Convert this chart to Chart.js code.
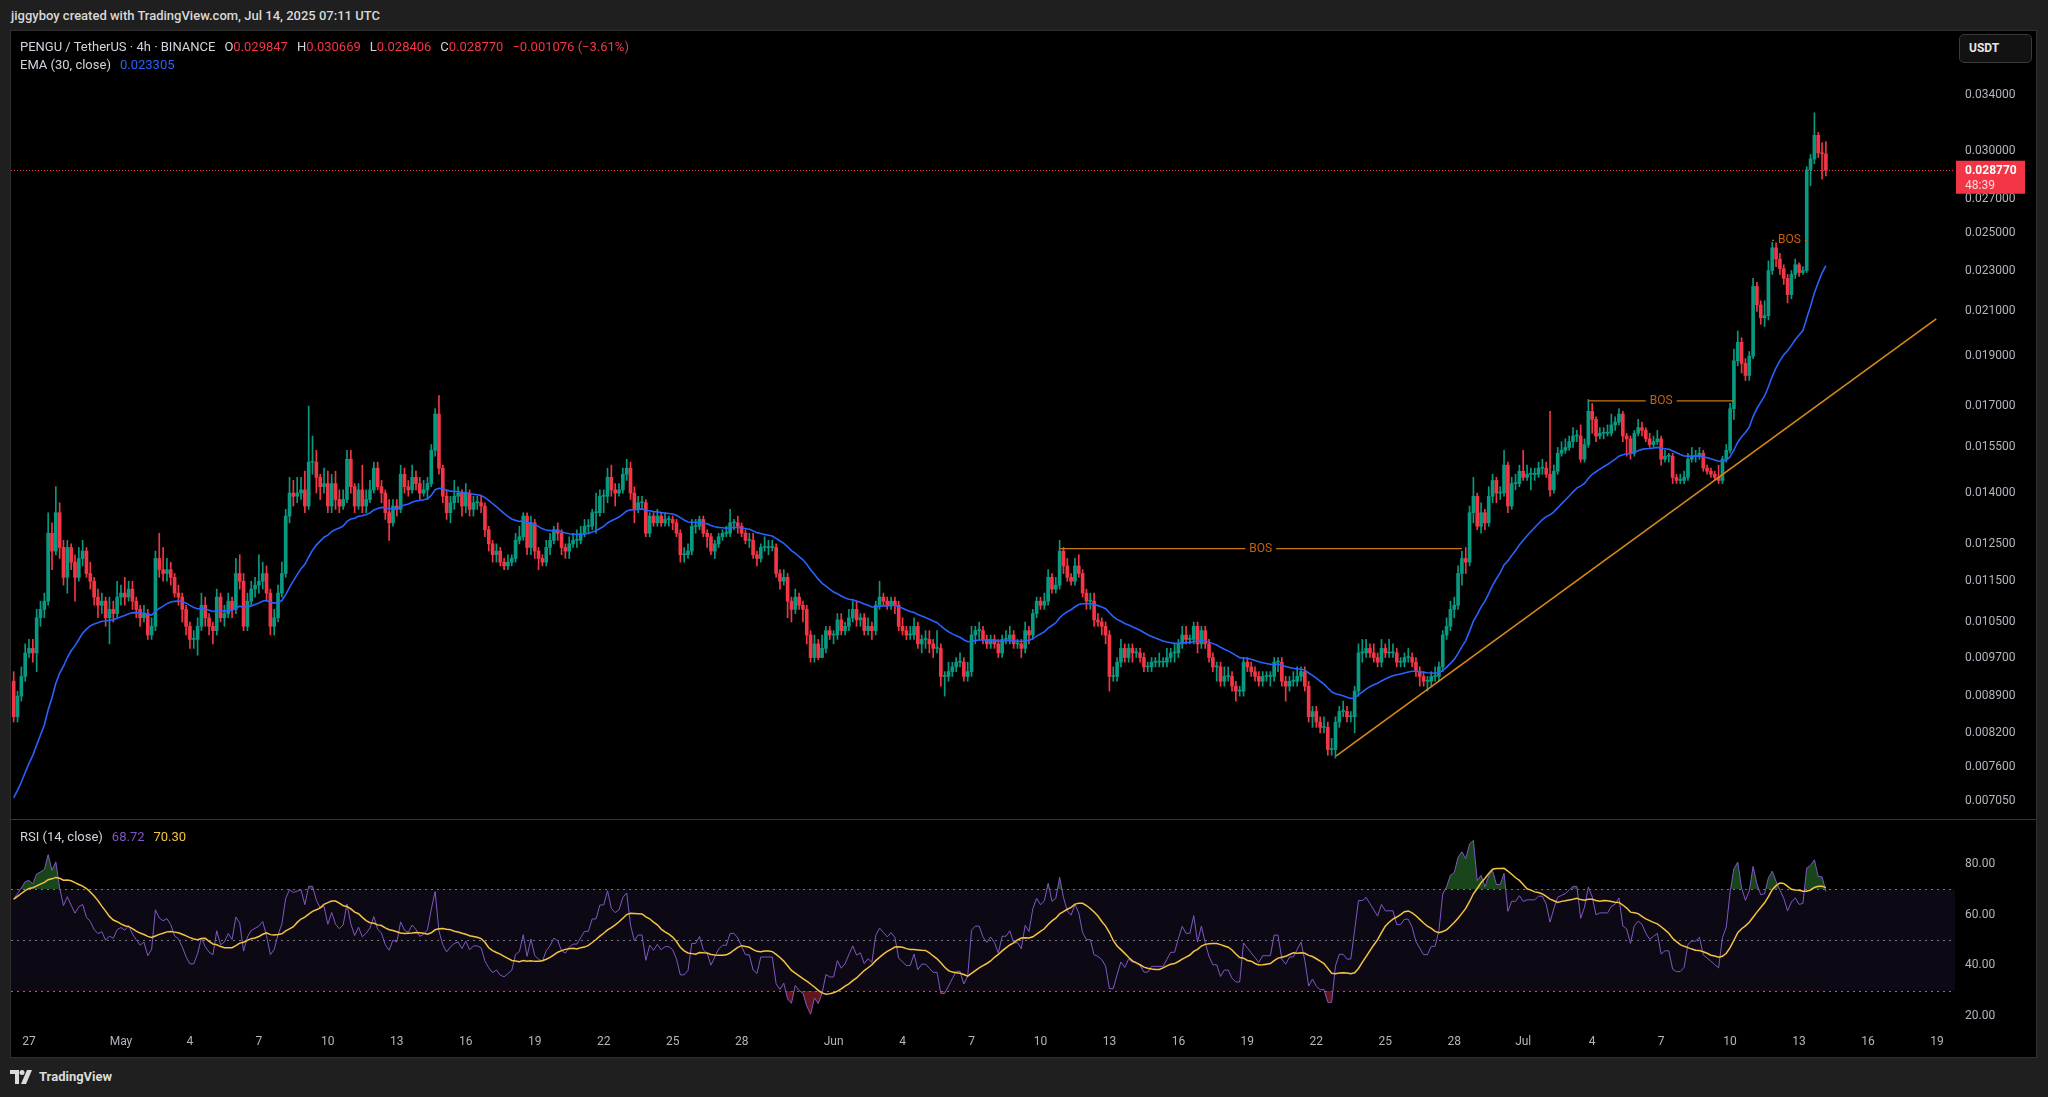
<!DOCTYPE html>
<html>
<head>
<meta charset="utf-8">
<title>PENGU / TetherUS 4h</title>
<script src="https://cdn.jsdelivr.net/npm/chart.js@4.4.1/dist/chart.umd.min.js"></script>
<style>
  html, body { margin: 0; padding: 0; width: 2048px; height: 1097px; overflow: hidden; background: #1f1f1f; font-family: Roboto, "Noto Sans", sans-serif; }
  .abs { position: absolute; }
  #header { left: 11px; top: 8px; color: #d8d8d8; font-size: 13px; font-weight: 500; white-space: nowrap; }
  #frame { left: 10px; top: 30px; width: 2027px; height: 1028px; background: #000; border: 1px solid #2f2f2f; box-sizing: border-box; }
  #price { left: 11px; top: 31px; }
  #sep { left: 11px; top: 819px; width: 2025px; height: 1px; background: #333; }
  #rsi { left: 11px; top: 820px; }
  .legend { color: #d1d4dc; font-size: 13px; white-space: nowrap; }
  .legend span { margin-left: 9px; }
  .red { color: #f23645; }
  #usdt { left: 1959px; top: 34px; width: 73px; height: 29px; box-sizing: border-box; border: 1px solid #3a3a3a; border-radius: 5px; background: #121212; color: #e6e6e6; font-size: 12px; font-weight: 700; line-height: 27px; padding-left: 9px; }
  #footer { left: 10px; top: 1069px; color: #dcdcdc; font-size: 13px; font-weight: 700; display: flex; align-items: center; }
</style>
</head>
<body>
<div id="header" class="abs">jiggyboy created with TradingView.com, Jul 14, 2025 07:11 UTC</div>
<div id="frame" class="abs"></div>
<canvas id="price" class="abs" width="2025" height="788"></canvas>
<div id="sep" class="abs"></div>
<canvas id="rsi" class="abs" width="2025" height="237"></canvas>

<div class="abs legend" style="left:20px; top:39px;">PENGU / TetherUS · 4h · BINANCE<span>O<b class="red" style="font-weight:400">0.029847</b></span><span>H<b class="red" style="font-weight:400">0.030669</b></span><span>L<b class="red" style="font-weight:400">0.028406</b></span><span>C<b class="red" style="font-weight:400">0.028770</b></span><span class="red">−0.001076 (−3.61%)</span></div>
<div class="abs legend" style="left:20px; top:57px;">EMA (30, close)<span style="color:#2962ff">0.023305</span></div>
<div class="abs legend" style="left:20px; top:829px;">RSI (14, close)<span style="color:#7e57c2">68.72</span><span style="color:#f5c342">70.30</span></div>
<div id="usdt" class="abs">USDT</div>
<div id="footer" class="abs">
  <svg width="24" height="14" viewBox="0 0 24 14"><path d="M0 0h9v14H5V4H0z" fill="#dcdcdc"/><circle cx="12" cy="2.5" r="2.5" fill="#dcdcdc"/><path d="M17 0h5l-6 14h-5z" fill="#dcdcdc"/></svg>
  <span style="margin-left:5px">TradingView</span>
</div>

<script>
// 4h candles, first one opens Apr 26 08:00 UTC, last one Jul 14 04:00 UTC
const firstOpen = 0.0092;
const closes = [
  0.0085,0.0089,0.0093,0.0098,
  0.0099,0.0098,0.0106,0.0108,0.0110,0.0128,
  0.0123,0.0134,0.0124,0.0116,0.0124,0.0120,
  0.0116,0.0121,0.0123,0.0117,0.0115,0.0111,
  0.0109,0.0110,0.0106,0.0108,0.0107,0.0111,
  0.0112,0.0111,0.0113,0.0110,0.0108,0.0106,
  0.0107,0.0102,0.0104,0.0121,0.0118,0.0117,
  0.0118,0.0116,0.0112,0.0111,0.0108,0.0104,
  0.0101,0.0101,0.0104,0.0109,0.0106,0.0104,
  0.0103,0.0111,0.0106,0.0107,0.0110,0.0108,
  0.0117,0.0115,0.0104,0.0110,0.0113,0.0114,
  0.0115,0.0117,0.0112,0.0104,0.0106,0.0112,
  0.0117,0.0133,0.0140,0.0139,0.0140,0.0141,
  0.0136,0.0150,0.0150,0.0145,0.0142,0.0143,
  0.0136,0.0143,0.0138,0.0136,0.0138,0.0151,
  0.0142,0.0136,0.0141,0.0136,0.0138,0.0141,
  0.0148,0.0142,0.0140,0.0134,0.0131,0.0136,
  0.0135,0.0146,0.0142,0.0141,0.0145,0.0143,
  0.0140,0.0141,0.0143,0.0154,0.0167,0.0148,
  0.0139,0.0134,0.0137,0.0139,0.0140,0.0136,
  0.0140,0.0135,0.0137,0.0137,0.0136,0.0129,
  0.0125,0.0122,0.0123,0.0120,0.0119,0.0120,
  0.0121,0.0126,0.0127,0.0133,0.0124,0.0131,
  0.0123,0.0121,0.0120,0.0124,0.0126,0.0129,
  0.0128,0.0124,0.0123,0.0125,0.0126,0.0126,
  0.0128,0.0130,0.0130,0.0134,0.0134,0.0139,
  0.0139,0.0145,0.0141,0.0140,0.0141,0.0146,
  0.0148,0.0140,0.0135,0.0137,0.0137,0.0128,
  0.0133,0.0131,0.0133,0.0131,0.0132,0.0132,
  0.0131,0.0128,0.0122,0.0122,0.0123,0.0130,
  0.0130,0.0132,0.0128,0.0127,0.0123,0.0125,
  0.0127,0.0128,0.0128,0.0131,0.0131,0.0130,
  0.0128,0.0126,0.0126,0.0122,0.0121,0.0124,
  0.0124,0.0124,0.0124,0.0117,0.0115,0.0116,
  0.0110,0.0108,0.0111,0.0109,0.0108,0.0102,
  0.0097,0.0100,0.0097,0.0099,0.0103,0.0102,
  0.0102,0.01055,0.0103,0.0104,0.0106,0.0108,
  0.01055,0.0106,0.0103,0.0104,0.0103,0.0109,
  0.0111,0.0110,0.0109,0.0110,0.0109,0.0104,
  0.0103,0.0102,0.0102,0.0104,0.0100,0.0101,
  0.0101,0.0100,0.0099,0.0099,0.0093,0.0093,
  0.0094,0.0095,0.0096,0.0096,0.0093,0.0094,
  0.0102,0.0103,0.0103,0.0101,0.0100,0.0101,
  0.0100,0.0098,0.0101,0.0101,0.0102,0.0100,
  0.0100,0.0099,0.0103,0.0102,0.0107,0.0110,
  0.0109,0.0110,0.0116,0.0113,0.0114,0.0123,
  0.0119,0.0116,0.0115,0.0119,0.0117,0.0112,
  0.0110,0.0110,0.01055,0.0105,0.0104,0.0102,
  0.0093,0.0093,0.0096,0.0099,0.0097,0.0099,
  0.0098,0.0098,0.0097,0.0095,0.0095,0.0096,
  0.0096,0.0096,0.0096,0.0097,0.0098,0.0098,
  0.0100,0.0102,0.0101,0.0101,0.0104,0.0100,
  0.0103,0.0100,0.0097,0.0095,0.0095,0.0092,
  0.0093,0.0093,0.0091,0.0090,0.0090,0.0096,
  0.0095,0.0094,0.0093,0.0092,0.0093,0.0093,
  0.0093,0.0096,0.0096,0.0092,0.0091,0.0092,
  0.0092,0.0093,0.0094,0.0091,0.0085,0.0086,
  0.0084,0.0083,0.0083,0.0079,0.0079,0.0084,
  0.0086,0.0086,0.0085,0.0085,0.0090,0.0098,
  0.0098,0.0099,0.0098,0.0097,0.0096,0.0099,
  0.0098,0.0098,0.0098,0.0096,0.0096,0.0097,
  0.0097,0.0096,0.0094,0.0093,0.0092,0.0092,
  0.0093,0.0093,0.0095,0.0102,0.0104,0.0108,
  0.0109,0.0117,0.0121,0.0120,0.0134,0.0139,
  0.0130,0.0134,0.0131,0.0139,0.0144,0.0140,
  0.0140,0.0149,0.0136,0.0143,0.0143,0.0147,
  0.0145,0.0146,0.0146,0.0146,0.0148,0.0148,
  0.0146,0.0141,0.0147,0.0153,0.0154,0.0155,
  0.0157,0.0159,0.0159,0.0151,0.0156,0.0168,
  0.0165,0.0159,0.0160,0.0160,0.0160,0.0163,
  0.0164,0.0167,0.0159,0.0158,0.0153,0.0160,
  0.0162,0.0161,0.0158,0.0156,0.0157,0.0158,
  0.0151,0.0152,0.0152,0.0145,0.0144,0.0144,
  0.0145,0.0151,0.0152,0.0152,0.0153,0.0148,
  0.0147,0.0146,0.0145,0.0144,0.0151,0.0154,
  0.0169,0.0188,0.0196,0.0187,0.0182,0.0190,
  0.0222,0.0213,0.0207,0.0208,0.0230,0.0242,
  0.0236,0.0231,0.0226,0.0218,0.0228,0.0233,
  0.0229,0.0230,0.0288,0.0295,0.0311,0.0299,
  0.029847,0.02877
];
const highs = [
  0.0094,0.0090,0.0095,0.0100,
  0.0101,0.0101,0.0108,0.0110,0.0112,0.0134,
  0.0131,0.0142,0.0137,0.0126,0.0126,0.0125,
  0.0122,0.0124,0.0126,0.0124,0.0120,0.0116,
  0.0113,0.0112,0.0111,0.0111,0.0110,0.0115,
  0.0114,0.0116,0.0115,0.0115,0.0111,0.0109,
  0.0109,0.0108,0.0106,0.0123,0.0128,0.0124,
  0.0121,0.0120,0.0117,0.0114,0.0112,0.0109,
  0.0105,0.0103,0.0106,0.0112,0.0111,0.0107,
  0.0105,0.0113,0.0112,0.0109,0.0112,0.0111,
  0.0121,0.0122,0.0117,0.0112,0.0115,0.0116,
  0.0122,0.0120,0.0119,0.0113,0.0108,0.0114,
  0.0120,0.0135,0.0145,0.0144,0.0145,0.0145,
  0.0147,0.0170,0.0159,0.0154,0.0146,0.0148,
  0.0147,0.0146,0.0147,0.0141,0.0141,0.0154,
  0.0154,0.0143,0.0143,0.0149,0.0141,0.0144,
  0.0150,0.0150,0.0144,0.0141,0.0138,0.0138,
  0.0138,0.0149,0.0148,0.0144,0.0149,0.0147,
  0.0145,0.0144,0.0145,0.0156,0.0169,0.0174,
  0.0149,0.0141,0.0139,0.0144,0.0142,0.0141,
  0.0143,0.0141,0.0139,0.0139,0.0139,0.0137,
  0.0130,0.0126,0.0125,0.0124,0.0121,0.0122,
  0.0122,0.0128,0.0130,0.0134,0.0134,0.0133,
  0.0132,0.0124,0.0122,0.0126,0.0128,0.0130,
  0.0131,0.0129,0.0125,0.0127,0.0128,0.0129,
  0.0130,0.0132,0.0132,0.0135,0.0140,0.0141,
  0.0141,0.0148,0.0149,0.0143,0.0143,0.0148,
  0.0151,0.0150,0.0142,0.0139,0.0139,0.0138,
  0.0134,0.0134,0.0135,0.0134,0.0134,0.0133,
  0.0133,0.0132,0.0129,0.0124,0.0125,0.0132,
  0.0132,0.0133,0.0133,0.0129,0.0128,0.0126,
  0.0128,0.0129,0.0130,0.0135,0.0132,0.0133,
  0.0131,0.0129,0.0128,0.0128,0.0123,0.0125,
  0.0127,0.0126,0.0126,0.0125,0.0118,0.0118,
  0.0117,0.0111,0.0113,0.0112,0.0110,0.0109,
  0.0103,0.0102,0.0101,0.0102,0.0104,0.0104,
  0.0103,0.0107,0.0107,0.0105,0.0108,0.0110,
  0.0110,0.0107,0.0107,0.0106,0.0105,0.0110,
  0.0115,0.0112,0.0111,0.0111,0.0111,0.0110,
  0.0106,0.0104,0.0104,0.0106,0.0105,0.0102,
  0.0103,0.0103,0.0101,0.0103,0.0100,0.0094,
  0.0096,0.0096,0.0097,0.0098,0.0097,0.0096,
  0.0104,0.0104,0.0105,0.0104,0.0102,0.0102,
  0.0102,0.0101,0.0102,0.0103,0.0104,0.0103,
  0.0101,0.0101,0.0105,0.0104,0.0108,0.0111,
  0.0111,0.0112,0.0118,0.0117,0.0116,0.0126,
  0.0124,0.0121,0.0117,0.0121,0.0122,0.0118,
  0.0113,0.0112,0.0112,0.0107,0.0106,0.0105,
  0.0103,0.0095,0.0097,0.0101,0.0100,0.0100,
  0.0100,0.0099,0.0099,0.0098,0.0096,0.0097,
  0.0097,0.0098,0.0097,0.0099,0.0099,0.0100,
  0.0101,0.0104,0.0104,0.0102,0.0105,0.0105,
  0.0104,0.0104,0.0101,0.0098,0.0096,0.0096,
  0.0095,0.0095,0.0094,0.0092,0.0091,0.0097,
  0.0097,0.0096,0.0095,0.0094,0.0094,0.0094,
  0.0094,0.0097,0.0097,0.0097,0.0093,0.0093,
  0.0094,0.0095,0.0095,0.0095,0.0092,0.0087,
  0.0087,0.0085,0.0085,0.0084,0.0081,0.0085,
  0.0087,0.0088,0.0087,0.0086,0.0091,0.0100,
  0.0101,0.0101,0.0100,0.0100,0.0098,0.0101,
  0.0100,0.0101,0.0100,0.0099,0.0097,0.0098,
  0.0099,0.0098,0.0097,0.0095,0.0094,0.0093,
  0.0094,0.0095,0.0096,0.0103,0.0106,0.0110,
  0.0111,0.0119,0.0123,0.0124,0.0136,0.0145,
  0.0140,0.0137,0.0135,0.0142,0.0146,0.0145,
  0.0142,0.0154,0.0150,0.0145,0.0146,0.0149,
  0.0154,0.0149,0.0148,0.0148,0.0150,0.0151,
  0.0150,0.0168,0.0149,0.0155,0.0157,0.0158,
  0.0159,0.0162,0.0161,0.0163,0.0158,0.01725,
  0.0171,0.0166,0.0162,0.0162,0.0163,0.0167,
  0.0166,0.0169,0.0168,0.0160,0.0159,0.0161,
  0.0165,0.0164,0.0162,0.0160,0.0159,0.0161,
  0.0159,0.0154,0.0153,0.0153,0.0146,0.0146,
  0.0147,0.0153,0.0155,0.0154,0.0155,0.0154,
  0.0149,0.0148,0.0147,0.0149,0.0152,0.0156,
  0.0171,0.0193,0.0201,0.0198,0.0189,0.0192,
  0.0226,0.0224,0.0215,0.0215,0.0235,0.0245,
  0.0245,0.0239,0.0233,0.0228,0.0230,0.0236,
  0.0234,0.0232,0.0290,0.0298,0.0327,0.0313,
  0.0306,0.030669
];
const lows = [
  0.0084,0.0084,0.0088,0.0092,
  0.0097,0.0096,0.0094,0.0104,0.0106,0.0109,
  0.0118,0.0122,0.0121,0.0114,0.0112,0.0118,
  0.0110,0.0115,0.0119,0.0116,0.0113,0.0109,
  0.0106,0.0107,0.0104,0.0100,0.0105,0.0106,
  0.0109,0.0109,0.0110,0.0108,0.0106,0.0104,
  0.0105,0.0101,0.0101,0.0103,0.0116,0.0115,
  0.0115,0.0114,0.0111,0.0109,0.0105,0.0102,
  0.0099,0.0099,0.00975,0.0103,0.0104,0.0102,
  0.0100,0.0102,0.0105,0.0104,0.0106,0.0106,
  0.0107,0.0113,0.0103,0.0103,0.0109,0.0111,
  0.0112,0.0113,0.0110,0.0102,0.0102,0.0105,
  0.0111,0.0116,0.0131,0.0136,0.0137,0.0138,
  0.0134,0.0135,0.0146,0.0140,0.0138,0.0140,
  0.0134,0.0134,0.0135,0.0134,0.0135,0.0137,
  0.0140,0.0134,0.0135,0.0134,0.0134,0.0137,
  0.0140,0.0141,0.0137,0.0132,0.0126,0.0130,
  0.0133,0.0134,0.0140,0.0139,0.0140,0.0141,
  0.0138,0.0139,0.0138,0.0142,0.0152,0.0146,
  0.0137,0.0132,0.0131,0.0135,0.0137,0.0133,
  0.0134,0.0133,0.0133,0.0135,0.0134,0.0127,
  0.0123,0.0120,0.0120,0.0119,0.0118,0.0118,
  0.0119,0.0120,0.0125,0.0126,0.0122,0.0122,
  0.0121,0.0118,0.0119,0.0119,0.0122,0.0125,
  0.0126,0.0122,0.0121,0.0121,0.0124,0.0124,
  0.0125,0.0127,0.0128,0.0129,0.0128,0.0133,
  0.0134,0.0137,0.0139,0.0136,0.0139,0.0140,
  0.0144,0.0138,0.0131,0.0134,0.0135,0.0127,
  0.0127,0.0130,0.0130,0.0130,0.0130,0.0130,
  0.0129,0.0127,0.0120,0.0120,0.0121,0.0122,
  0.0128,0.0129,0.0127,0.0124,0.0122,0.0121,
  0.0124,0.0126,0.0127,0.0127,0.0129,0.0128,
  0.0127,0.0125,0.0124,0.0121,0.0119,0.0120,
  0.0123,0.0122,0.0123,0.0116,0.0113,0.0114,
  0.0106,0.0105,0.0107,0.0108,0.0105,0.0100,
  0.0096,0.0096,0.00965,0.0097,0.0098,0.0101,
  0.0100,0.0101,0.0102,0.0102,0.0103,0.0105,
  0.0104,0.0104,0.0102,0.0102,0.0101,0.0102,
  0.0108,0.0109,0.0108,0.0108,0.0107,0.0103,
  0.0102,0.0101,0.0101,0.0101,0.0099,0.0098,
  0.0099,0.0098,0.0097,0.0098,0.0091,0.0089,
  0.0092,0.0093,0.0094,0.0095,0.0092,0.0092,
  0.0093,0.0100,0.0101,0.0100,0.0099,0.0099,
  0.0099,0.0097,0.0097,0.0100,0.0100,0.0099,
  0.0099,0.0097,0.0098,0.0100,0.0101,0.0106,
  0.0108,0.0108,0.0109,0.0112,0.0112,0.0113,
  0.0117,0.0115,0.0114,0.0114,0.0116,0.0111,
  0.0108,0.0108,0.0104,0.0104,0.0102,0.0100,
  0.0090,0.0092,0.0092,0.0095,0.0096,0.0096,
  0.0096,0.0097,0.0096,0.0094,0.0094,0.0094,
  0.0095,0.0095,0.0095,0.0095,0.0096,0.0096,
  0.0097,0.0099,0.0100,0.0100,0.0100,0.0098,
  0.0099,0.0099,0.0096,0.0094,0.0092,0.0091,
  0.0091,0.0092,0.0090,0.0088,0.0089,0.0089,
  0.0094,0.0093,0.0092,0.0091,0.0091,0.0092,
  0.0091,0.0092,0.0094,0.0091,0.0088,0.0090,
  0.0091,0.0091,0.0092,0.0090,0.0084,0.0083,
  0.0083,0.0082,0.0082,0.0078,0.0078,0.00775,
  0.0083,0.0085,0.0084,0.0084,0.0082,0.0089,
  0.0096,0.0097,0.0097,0.0096,0.0095,0.0095,
  0.0097,0.0097,0.0097,0.0095,0.0095,0.0095,
  0.0096,0.0095,0.0093,0.0091,0.0091,0.0090,
  0.0091,0.0092,0.0092,0.0094,0.0101,0.0103,
  0.0106,0.0108,0.0114,0.0117,0.0119,0.0131,
  0.0129,0.0128,0.0129,0.0130,0.0137,0.0137,
  0.0138,0.0139,0.0134,0.0135,0.0141,0.0142,
  0.0144,0.0144,0.0141,0.0144,0.0145,0.0146,
  0.0145,0.0139,0.0140,0.0146,0.0152,0.0153,
  0.0154,0.0155,0.0157,0.0150,0.0150,0.0155,
  0.0160,0.0157,0.0158,0.0158,0.0159,0.0159,
  0.0161,0.0163,0.0157,0.0152,0.0151,0.0152,
  0.0159,0.0159,0.0157,0.0155,0.0155,0.0156,
  0.0149,0.0150,0.0150,0.0143,0.0143,0.0143,
  0.0143,0.0144,0.0150,0.0150,0.0151,0.0147,
  0.0146,0.0145,0.0144,0.0143,0.0143,0.0150,
  0.0153,0.0165,0.0186,0.0183,0.0180,0.0180,
  0.0189,0.0210,0.0204,0.0203,0.0206,0.0228,
  0.0232,0.0228,0.0223,0.0214,0.0216,0.0226,
  0.0227,0.0228,0.0229,0.0278,0.0292,0.0296,
  0.0282,0.028406
];

const emaStart = 0.0070;          // EMA level carried in from before the visible range
const rsiSeedGain = 0.0003, rsiSeedLoss = 0.0001;

// price axis
const priceTicks = [0.034, 0.030, 0.027, 0.025, 0.023, 0.021, 0.019, 0.017, 0.0155, 0.014, 0.0125, 0.0115, 0.0105, 0.0097, 0.0089, 0.0082, 0.0076, 0.00705];
const rsiTicks = [20, 40, 60, 80];
// time axis: label text and day offset from Apr 27
const tickLabels = ['27','May','4','7','10','13','16','19','22','25','28','Jun','4','7','10','13','16','19','22','25','28','Jul','4','7','10','13','16','19'];
const tickDays = [0,4,7,10,13,16,19,22,25,28,31,35,38,41,44,47,50,53,56,59,62,65,68,71,74,77,80,83];

// drawings
const bosLevel = [0.01237, 0.0172, 0.0246];
const bosFrom = [273, 411, 459];
const bosTo = [378, 449, 468];
const trendIdx = [345.2, 501.8];
const trendPrice = [0.00779, 0.02065];
const lastPrice = 0.02877;

const GREEN = '#089981', RED = '#f23645';
const xMin = -0.7, xMax = 506.7;   // visible candle-index range
const AXIS_W = 81;

const idx = closes.map((c, i) => i);
const opens = closes.map((c, i) => i === 0 ? firstOpen : closes[i - 1]);
const colors = closes.map((c, i) => c >= opens[i] ? GREEN : RED);

function calcEma(values, len, seed) {
    const k = 2 / (len + 1);
    let e = seed;
    return values.map(v => (e = e + k * (v - e)));
}

function calcRsi(values, len) {
    let g = rsiSeedGain, l = rsiSeedLoss, prev = firstOpen;
    return values.map(v => {
        const d = v - prev;
        prev = v;
        g = (g * (len - 1) + Math.max(d, 0)) / len;
        l = (l * (len - 1) + Math.max(-d, 0)) / len;
        return 100 - 100 / (1 + g / l);
    });
}

function sma(values, len) {
    return values.map((v, i) => {
        const part = values.slice(Math.max(0, i - len + 1), i + 1);
        return part.reduce((a, b) => a + b, 0) / part.length;
    });
}

const ema = calcEma(closes, 30, emaStart);
const rsi = calcRsi(closes, 14);
const rsiMa = sma(rsi, 14);

Chart.defaults.font.family = 'Roboto, "Noto Sans", sans-serif';

// keep the plot area flush with the pane edges
function fitAxis(s) {
    s.width = AXIS_W;
    s.paddingTop = 0;
    s.paddingBottom = 0;
}

const priceDecor = {
    id: 'priceDecor',
    beforeDatasetsDraw(chart) {
        const { ctx, chartArea: a, scales: { y } } = chart;
        const py = Math.round(y.getPixelForValue(lastPrice)) + 0.5;
        ctx.save();
        ctx.strokeStyle = RED;
        ctx.lineWidth = 1;
        ctx.setLineDash([1, 2]);
        ctx.beginPath();
        ctx.moveTo(a.left, py);
        ctx.lineTo(a.right, py);
        ctx.stroke();
        ctx.restore();
    },
    afterDatasetsDraw(chart) {
        const { ctx, scales: { x, y } } = chart;
        ctx.save();
        ctx.font = '12px Roboto, sans-serif';
        ctx.textAlign = 'center';
        ctx.textBaseline = 'middle';
        bosLevel.forEach((lv, k) => {
            const cx = x.getPixelForValue((bosFrom[k] + bosTo[k]) / 2);
            const cy = y.getPixelForValue(lv);
            const w = ctx.measureText('BOS').width + 8;
            ctx.fillStyle = '#000';
            ctx.fillRect(cx - w / 2, cy - 2, w, 4);
            ctx.fillStyle = '#c8600c';
            ctx.fillText('BOS', cx, cy);
        });
        ctx.restore();
    },
    afterDraw(chart) {
        const { ctx, chartArea: a, scales: { y } } = chart;
        const py = y.getPixelForValue(lastPrice);
        ctx.save();
        ctx.fillStyle = RED;
        ctx.fillRect(a.right + 1, py - 9.5, 69, 33);
        ctx.fillStyle = '#fff';
        ctx.font = 'bold 12px Roboto, sans-serif';
        ctx.textBaseline = 'middle';
        ctx.fillText(lastPrice.toFixed(6), a.right + 10, py + 0.5);
        ctx.font = '12px Roboto, sans-serif';
        ctx.fillStyle = 'rgba(255,255,255,0.8)';
        ctx.fillText('48:39', a.right + 10, py + 15.5);
        ctx.restore();
    }
};

new Chart(document.getElementById('price'), {
    type: 'bar',
    data: {
        datasets: [
            {
                type: 'bar', label: 'wick', order: 4, grouped: false,
                data: idx.map(i => ({ x: i, y: [lows[i], highs[i]] })),
                backgroundColor: colors, barThickness: 1
            },
            {
                type: 'bar', label: 'body', order: 3, grouped: false,
                data: idx.map(i => ({ x: i, y: [opens[i], closes[i]] })),
                backgroundColor: colors, barThickness: 3, minBarLength: 1
            },
            {
                type: 'line', label: 'EMA 30', order: 1,
                data: idx.map(i => ({ x: i, y: ema[i] })),
                borderColor: '#2962ff', borderWidth: 1.6, pointRadius: 0, tension: 0
            },
            ...bosLevel.map((lv, k) => ({
                type: 'line', label: 'BOS', order: 2,
                data: [{ x: bosFrom[k], y: lv }, { x: bosTo[k], y: lv }],
                borderColor: '#c8770f', borderWidth: 1.3, pointRadius: 0
            })),
            {
                type: 'line', label: 'trend', order: 2,
                data: [{ x: trendIdx[0], y: trendPrice[0] }, { x: trendIdx[1], y: trendPrice[1] }],
                borderColor: '#d68a16', borderWidth: 1.6, pointRadius: 0
            }
        ]
    },
    options: {
        responsive: false,
        animation: false,
        devicePixelRatio: 1,
        layout: { padding: 0, autoPadding: false },
        plugins: { legend: { display: false }, tooltip: { enabled: false } },
        scales: {
            x: { type: 'linear', min: xMin, max: xMax, display: false, offset: false },
            y: {
                type: 'logarithmic', position: 'right', bounds: 'data',
                min: 0.006766, max: 0.03925,
                afterFit: fitAxis,
                afterBuildTicks: s => { s.ticks = priceTicks.map(v => ({ value: v })); },
                ticks: {
                    autoSkip: false, padding: 10, color: '#b2b5be', font: { size: 12 },
                    callback: v => Number(v).toFixed(6)
                },
                grid: { display: false, drawTicks: false },
                border: { display: false }
            }
        }
    },
    plugins: [priceDecor]
});

const rsiBand = {
    id: 'rsiBand',
    beforeDatasetsDraw(chart) {
        const { ctx, chartArea: a, scales: { y } } = chart;
        const y70 = y.getPixelForValue(70), y50 = y.getPixelForValue(50), y30 = y.getPixelForValue(30);
        ctx.save();
        ctx.fillStyle = 'rgba(126,87,194,0.1)';
        ctx.fillRect(a.left, y70, a.right - a.left, y30 - y70);
        ctx.strokeStyle = '#787b86';
        ctx.lineWidth = 1;
        ctx.setLineDash([2, 4]);
        [y70, y50, y30].forEach(yy => {
            ctx.beginPath();
            ctx.moveTo(a.left, Math.round(yy) + 0.5);
            ctx.lineTo(a.right, Math.round(yy) + 0.5);
            ctx.stroke();
        });
        ctx.restore();
    }
};

new Chart(document.getElementById('rsi'), {
    type: 'line',
    data: {
        datasets: [
            {
                label: 'RSI', order: 2,
                data: idx.map(i => ({ x: i, y: rsi[i] })),
                borderColor: '#7e57c2', borderWidth: 1, pointRadius: 0,
                fill: { target: { value: 70 }, above: 'rgba(46,125,50,0.55)', below: 'rgba(0,0,0,0)' }
            },
            {
                label: 'RSI oversold', order: 3,
                data: idx.map(i => ({ x: i, y: rsi[i] })),
                borderColor: 'rgba(0,0,0,0)', borderWidth: 0, pointRadius: 0,
                fill: { target: { value: 30 }, above: 'rgba(0,0,0,0)', below: 'rgba(242,54,69,0.4)' }
            },
            {
                label: 'RSI MA', order: 1,
                data: idx.map(i => ({ x: i, y: rsiMa[i] })),
                borderColor: '#f5c342', borderWidth: 1.5, pointRadius: 0
            }
        ]
    },
    options: {
        responsive: false,
        animation: false,
        devicePixelRatio: 1,
        layout: { padding: 0, autoPadding: false },
        plugins: { legend: { display: false }, tooltip: { enabled: false } },
        scales: {
            x: {
                type: 'linear', min: xMin, max: xMax, offset: false,
                afterFit: s => { s.height = 32; s.paddingLeft = 0; s.paddingRight = 0; },
                afterBuildTicks: s => { s.ticks = tickDays.map(d => ({ value: 4 + d * 6 })); },
                ticks: {
                    autoSkip: false, maxRotation: 0, padding: 10, color: '#b2b5be', font: { size: 12 },
                    callback: (v, i) => tickLabels[i]
                },
                grid: { display: false, drawTicks: false },
                border: { display: false }
            },
            y: {
                type: 'linear', position: 'right', min: 16.49, max: 97.36,
                afterFit: fitAxis,
                afterBuildTicks: s => { s.ticks = rsiTicks.map(v => ({ value: v })); },
                ticks: {
                    autoSkip: false, padding: 10, color: '#b2b5be', font: { size: 12 },
                    callback: v => Number(v).toFixed(2)
                },
                grid: { display: false, drawTicks: false },
                border: { display: false }
            }
        }
    },
    plugins: [rsiBand]
});
</script>
</body>
</html>
